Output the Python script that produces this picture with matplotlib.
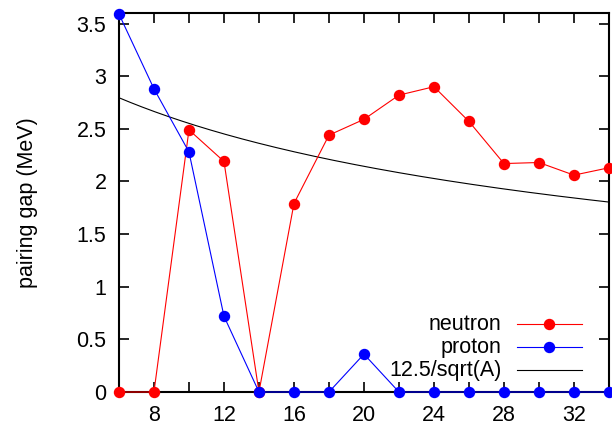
import numpy as np
import matplotlib
matplotlib.use("Agg")
import matplotlib.pyplot as plt
from matplotlib.lines import Line2D

plt.rcParams['font.family'] = ['Liberation Sans', 'DejaVu Sans']

N = [6, 8, 10, 12, 14, 16, 18, 20, 22, 24, 26, 28, 30, 32, 34]
neutron = [0, 0, 2.49, 2.19, 0, 1.79, 2.44, 2.59, 2.82, 2.90, 2.57, 2.17, 2.18, 2.06, 2.13]
proton = [3.59, 2.88, 2.28, 0.72, 0, 0, 0, 0.36, 0, 0, 0, 0, 0, 0, 0]
Z = 14
xticks = [8, 12, 16, 20, 24, 28, 32]
yticks = [0, 0.5, 1, 1.5, 2, 2.5, 3, 3.5]
ytick_labels = ['0', '0.5', '1', '1.5', '2', '2.5', '3', '3.5']
labels = ['neutron', 'proton', '12.5/sqrt(A)']

FS = 15.5
fig = plt.figure(figsize=(6.12, 4.28), dpi=100)
ax = fig.add_axes([0.1944, 0.0841, 0.8006, 0.8855])

ax.plot(N, neutron, color='red', lw=0.8, marker='o', ms=7.2, mec='red', clip_on=False, zorder=3)
ax.plot(N, proton, color='blue', lw=0.8, marker='o', ms=7.2, mec='blue', clip_on=False, zorder=4)
xs = np.linspace(N[0], N[-1], 300)
ax.plot(xs, 12.5 / np.sqrt(xs + Z), color='black', lw=0.8, zorder=2)

ax.set_xlim(6, 34)
ax.set_ylim(0, 3.6)
ax.set_xticks(xticks)
ax.set_xticks(list(range(10, 34, 4)), minor=True)
ax.set_yticks(yticks)
ax.set_yticklabels(ytick_labels)
ax.tick_params(which='both', direction='in', length=7, width=1.2, top=True, right=True,
               labelsize=FS)
ax.tick_params(axis='x', pad=9)
ax.tick_params(axis='y', pad=9)
for s in ax.spines.values():
    s.set_linewidth(1.5)
ax.set_ylabel('pairing gap (MeV)', fontsize=FS)
ax.yaxis.set_label_coords(-0.165, 0.5)

# gnuplot-style legend (text right-justified, sample to the right)
colors = ['red', 'blue', 'black']
markers = ['o', 'o', None]
ys = [0.179, 0.118, 0.058]
x_text = 0.781
x0, x1 = 0.8116, 0.9455
for lab, c, m, yy in zip(labels, colors, markers, ys):
    ax.text(x_text, yy, lab, transform=ax.transAxes, ha='right', va='center', fontsize=FS)
    ax.add_line(Line2D([x0, x1], [yy, yy], transform=ax.transAxes, color=c, lw=0.8))
    if m:
        ax.add_line(Line2D([(x0 + x1) / 2], [yy], transform=ax.transAxes, color=c,
                           marker=m, ms=7.2, lw=0))

fig.savefig('out.png', dpi=100)
